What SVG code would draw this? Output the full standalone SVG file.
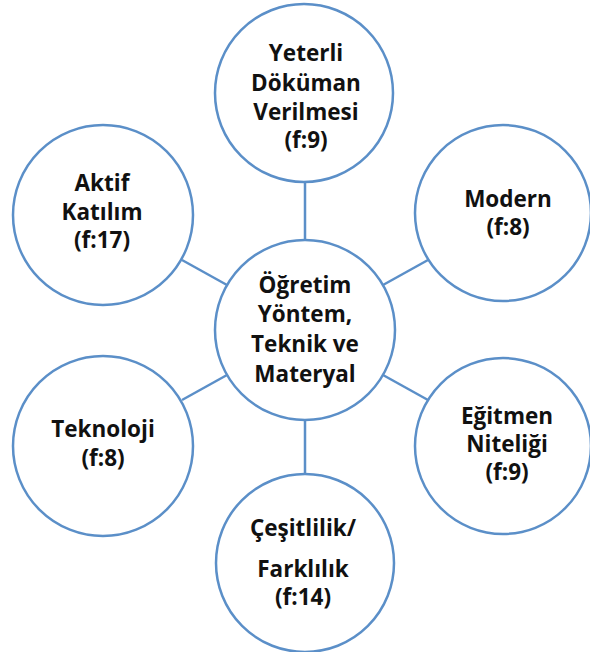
<svg xmlns="http://www.w3.org/2000/svg" width="590" height="652" viewBox="0 0 590 652">
  <style>
    .node { fill: #ffffff; stroke: #5b8fc8; stroke-width: 2.5; }
    .link { stroke: #5b8fc8; stroke-width: 2.5; fill: none; }
    .label { font-family: "Open Sans", "Noto Sans", sans-serif; font-weight: bold; font-size: 22.5px; fill: #111111; text-anchor: middle; }
  </style>
  <rect width="590" height="652" fill="#ffffff"/>

  <!-- spokes joining the hub to each outer circle -->
  <g id="connectors">
    <line class="link" x1="305" y1="181" x2="305" y2="240"/>
    <line class="link" x1="305" y1="420" x2="305" y2="473"/>
    <line class="link" x1="182" y1="260" x2="227" y2="285"/>
    <line class="link" x1="182" y1="400" x2="227" y2="375"/>
    <line class="link" x1="428" y1="260" x2="383" y2="285"/>
    <line class="link" x1="428" y1="400" x2="383" y2="375"/>
  </g>

  <g id="hub">
    <circle class="node" cx="305" cy="330" r="90"/>
    <text class="label" x="305" y="293">Öğretim</text>
    <text class="label" x="305" y="322">Yöntem,</text>
    <text class="label" x="305" y="352">Teknik ve</text>
    <text class="label" x="305" y="382">Materyal</text>
  </g>

  <g id="node-top">
    <circle class="node" cx="304" cy="93" r="89"/>
    <text class="label" x="306" y="61">Yeterli</text>
    <text class="label" x="306" y="91">Döküman</text>
    <text class="label" x="306" y="120">Verilmesi</text>
    <text class="label" x="306" y="148">(f:9)</text>
  </g>

  <g id="node-top-left">
    <circle class="node" cx="103" cy="215" r="90"/>
    <text class="label" x="102" y="191">Aktif</text>
    <text class="label" x="102" y="220">Katılım</text>
    <text class="label" x="102" y="248">(f:17)</text>
  </g>

  <g id="node-top-right">
    <circle class="node" cx="503" cy="213" r="88"/>
    <text class="label" x="508" y="207">Modern</text>
    <text class="label" x="508" y="235">(f:8)</text>
  </g>

  <g id="node-bottom-left">
    <circle class="node" cx="103" cy="446" r="90"/>
    <text class="label" x="103" y="437">Teknoloji</text>
    <text class="label" x="103" y="466">(f:8)</text>
  </g>

  <g id="node-bottom-right">
    <circle class="node" cx="503" cy="446" r="88"/>
    <text class="label" x="507" y="424">Eğitmen</text>
    <text class="label" x="507" y="452">Niteliği</text>
    <text class="label" x="507" y="480">(f:9)</text>
  </g>

  <g id="node-bottom">
    <circle class="node" cx="305" cy="563" r="89"/>
    <text class="label" x="303" y="536">Çeşitlilik/</text>
    <text class="label" x="303" y="577">Farklılık</text>
    <text class="label" x="303" y="605">(f:14)</text>
  </g>
</svg>
